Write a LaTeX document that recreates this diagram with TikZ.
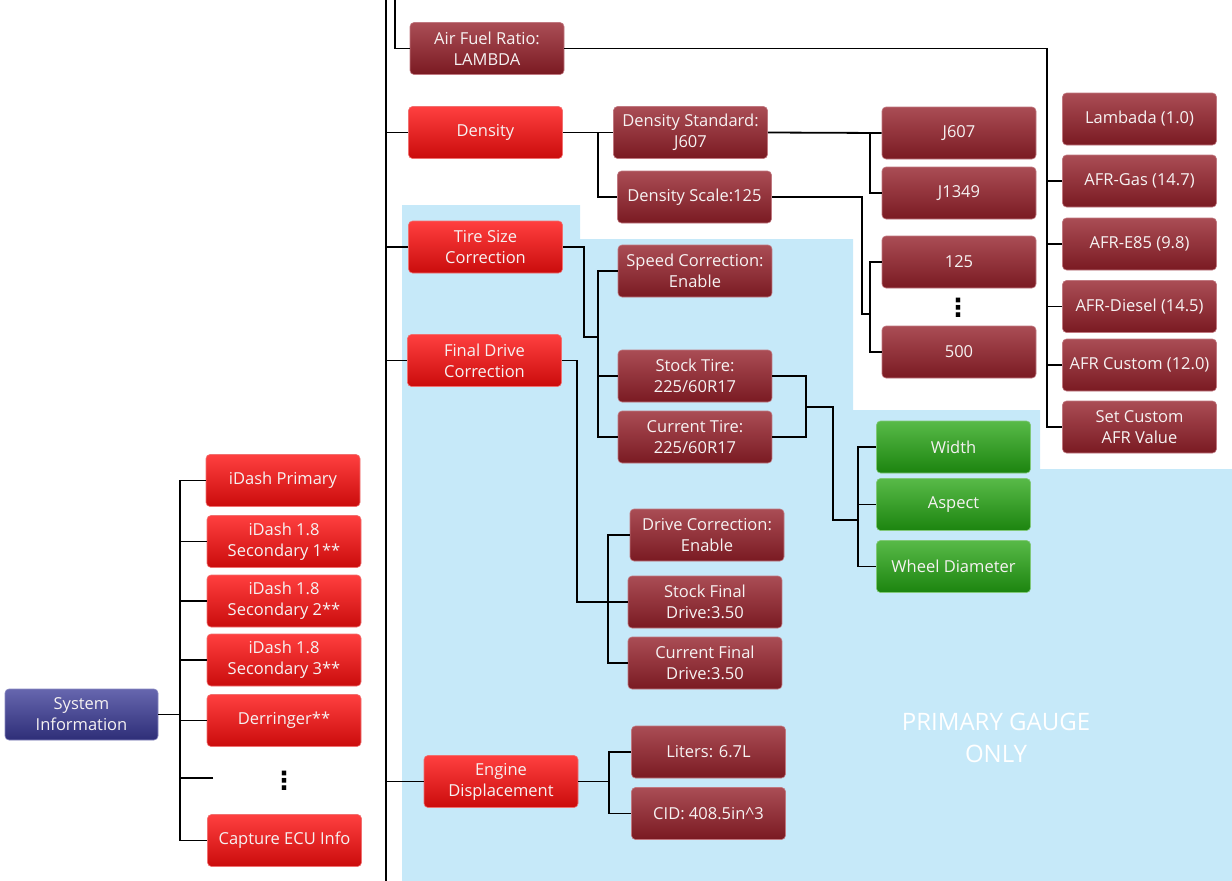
\documentclass[tikz,border=0pt]{standalone}
\usepackage{fontspec}
\setmainfont{Open Sans}
\newfontfamily\symfont{DejaVu Sans}
\definecolor{bgblue}{HTML}{C6E9F9}
\definecolor{rtop}{HTML}{FF3F3F}
\definecolor{rbot}{HTML}{CA0C0C}
\definecolor{rbord}{HTML}{F07070}
\definecolor{dtop}{HTML}{AA4D55}
\definecolor{dbot}{HTML}{7A1A22}
\definecolor{dbord}{HTML}{C07880}
\definecolor{btop}{HTML}{6666AE}
\definecolor{bbot}{HTML}{2E2E78}
\definecolor{bbord}{HTML}{8888C0}
\definecolor{gtop}{HTML}{58BA48}
\definecolor{gbot}{HTML}{1C840F}
\definecolor{gbord}{HTML}{80C878}
\definecolor{txt}{HTML}{F6F2F2}
\tikzset{
  box/.style={rounded corners=4pt, minimum width=154pt, minimum height=52pt,
    inner sep=0pt, align=center, text=txt, line width=0.6pt,
    font=\fontsize{16.5}{21}\selectfont},
  redbox/.style={box, top color=rtop, bottom color=rbot, draw=rbord},
  darkbox/.style={box, top color=dtop, bottom color=dbot, draw=dbord},
  bluebox/.style={box, top color=btop, bottom color=bbot, draw=bbord},
  greenbox/.style={box, top color=gtop, bottom color=gbot, draw=gbord},
  vdots/.style={inner sep=0pt, font=\symfont\bfseries\fontsize{25}{25}\selectfont},
  conn/.style={line width=1.8pt, black},
}
\begin{document}
\begin{tikzpicture}[x=1pt, y=-1pt]
\useasboundingbox (0,0) rectangle (1232,881);
% background region
\fill[bgblue] (402,205) -- (580,205) -- (580,239) -- (853,239) -- (853,410)
  -- (1040,410) -- (1040,469) -- (1232,469) -- (1232,881) -- (402,881) -- cycle;
\node[text=white, align=center, font=\fontsize{24}{32}\selectfont] (pgo) at (996,738) {PRIMARY GAUGE\\ONLY};

% left group
\node[bluebox, minimum width=153pt, minimum height=51pt] (sys) at (81.5,714.5) {System\\Information};
\node[redbox] (idp) at (283,480.5) {iDash Primary};
\node[redbox] (id1) at (284,541.5) {iDash 1.8\\Secondary 1**};
\node[redbox] (id2) at (284,601) {iDash 1.8\\Secondary 2**};
\node[redbox] (id3) at (284,660) {iDash 1.8\\Secondary 3**};
\node[redbox] (der) at (284,720.5) {Derringer**};
\node[vdots] (dots1) at (284,781) {⋮};
\node[redbox] (cap) at (284.5,840.5) {Capture ECU Info};

% main group
\node[darkbox] (afr) at (487,48.5) {Air Fuel Ratio:\\LAMBDA};
\node[redbox] (den) at (485.5,132.5) {Density};
\node[redbox] (tire) at (485.5,247) {Tire Size\\Correction};
\node[redbox] (fdc) at (484.5,360.5) {Final Drive\\Correction};
\node[redbox] (eng) at (501,781.5) {Engine\\Displacement};

\node[darkbox] (dstd) at (690.5,132.5) {Density Standard:\\J607};
\node[darkbox] (dsc) at (694.5,197) {Density Scale:125};
\node[darkbox] (j607) at (959,133) {J607};
\node[darkbox] (j1349) at (959,193) {J1349};
\node[darkbox] (n125) at (959,262) {125};
\node[vdots] (dots2) at (958,308) {⋮};
\node[darkbox] (n500) at (959,352) {500};

\node[darkbox] (lam) at (1139.5,119) {Lambada (1.0)};
\node[darkbox] (gas) at (1139.5,181) {AFR-Gas (14.7)};
\node[darkbox] (e85) at (1139.5,244) {AFR-E85 (9.8)};
\node[darkbox] (die) at (1139.5,306.5) {AFR-Diesel (14.5)};
\node[darkbox] (cus) at (1139.5,365) {AFR Custom (12.0)};
\node[darkbox] (set) at (1139.5,427) {Set Custom\\AFR Value};

\node[darkbox] (spd) at (695,271) {Speed Correction:\\Enable};
\node[darkbox] (stk) at (695,376) {Stock Tire:\\225/60R17};
\node[darkbox] (cur) at (695,437) {Current Tire:\\225/60R17};
\node[greenbox] (wid) at (953.5,447) {Width};
\node[greenbox] (asp) at (953.5,504.5) {Aspect};
\node[greenbox] (whl) at (953.5,566.5) {Wheel Diameter};

\node[darkbox] (drv) at (707,535) {Drive Correction:\\Enable};
\node[darkbox] (sfd) at (705,602) {Stock Final\\Drive:3.50};
\node[darkbox] (cfd) at (705,663) {Current Final\\Drive:3.50};

\node[darkbox] (lit) at (708.5,752) {Liters: 6.7L};
\node[darkbox] (cid) at (708.5,813.5) {CID: 408.5in\textasciicircum3};

% junction coordinates
\coordinate (lx) at (180,0);
\coordinate (dotsend) at (213,778);
\coordinate (mtop) at (386,0);
\coordinate (mbot) at (386,881);
\coordinate (atop) at (395,0);
\coordinate (dj) at (598,0);
\coordinate (sj) at (870,314);
\coordinate (sx) at (862,0);
\coordinate (x870) at (870,0);
\coordinate (tj) at (598,337);
\coordinate (tx) at (584,0);
\coordinate (tj2) at (806,407);
\coordinate (tj3) at (858,520);
\coordinate (tx3) at (833,0);
\coordinate (fj) at (608,602);
\coordinate (fx) at (577,0);
\coordinate (ej) at (609,781.5);
\coordinate (aj) at (1047,427);

\begin{scope}[conn]
% left group
\draw (sys.east) -- (sys.east -| lx);
\draw (idp.west) -- (idp.west -| lx) |- (cap.west);
\draw (id1.west) -- (id1.west -| lx);
\draw (id2.west) -- (id2.west -| lx);
\draw (id3.west) -- (id3.west -| lx);
\draw (der.west) -- (der.west -| lx);
\draw (dotsend) -- (dotsend -| lx);
% main spine
\draw (mtop) -- (mbot);
\draw (atop) |- (afr.west);
\draw (den.west -| mtop) -- (den.west);
\draw (tire.west -| mtop) -- (tire.west);
\draw (fdc.west -| mtop) -- (fdc.west);
\draw (eng.west -| mtop) -- (eng.west);
% density
\draw (dstd.west) -- (dstd.west -| dj) |- (dsc.west);
\draw (den.east) -- (den.east -| dj);
\draw (dstd.east) -- (j607.west);
\draw (dstd.east -| x870) |- (j1349.west);
\draw (dsc.east) -| (sj -| sx) -- (sj);
\draw (n125.west) -| (sj) |- (n500.west);
% afr
\draw (afr.east) -| (aj) -- (set.west);
\draw (gas.west) -- (gas.west -| aj);
\draw (e85.west) -- (e85.west -| aj);
\draw (die.west) -- (die.west -| aj);
\draw (cus.west) -- (cus.west -| aj);
% tire
\draw (tire.east) -| (tj -| tx) -- (tj);
\draw (spd.west) -| (tj) |- (cur.west);
\draw (stk.west) -- (stk.west -| tj);
\draw (stk.east) -| (tj2) |- (cur.east);
\draw (tj2) -| (tj3 -| tx3) -- (tj3);
\draw (wid.west) -| (tj3) |- (whl.west);
\draw (asp.west) -- (asp.west -| tj3);
% final drive
\draw (fdc.east) -| (sfd.west -| fx) -- (sfd.west);
\draw (drv.west) -| (fj) |- (cfd.west);
% engine
\draw (eng.east) -- (ej);
\draw (lit.west) -| (ej) |- (cid.west);
\end{scope}
\end{tikzpicture}
\end{document}
